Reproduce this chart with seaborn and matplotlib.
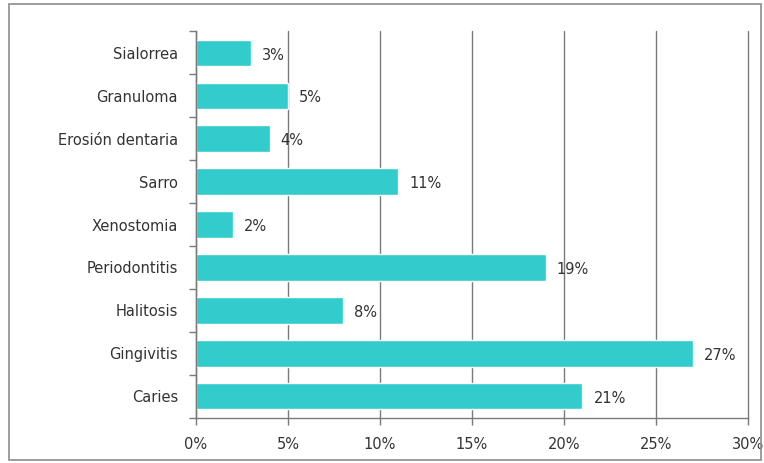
import matplotlib
matplotlib.use("Agg")
import matplotlib.pyplot as plt
from matplotlib.patches import Rectangle
from matplotlib.ticker import FixedLocator, PercentFormatter
import seaborn as sns
import pandas as pd

categories = ["Sialorrea", "Granuloma", "Erosión dentaria", "Sarro", "Xenostomia",
              "Periodontitis", "Halitosis", "Gingivitis", "Caries"]
values = [3, 5, 4, 11, 2, 19, 8, 27, 21]
x_ticks = [0, 5, 10, 15, 20, 25, 30]

df = pd.DataFrame({"categoria": categories, "porcentaje": values})

sns.set_theme(style="white")
plt.rcParams["font.family"] = ["DejaVu Sans"]

fig = plt.figure(figsize=(7.64, 4.63), dpi=100)
ax = fig.add_axes([0.2565, 0.098, 0.7225, 0.834])

sns.barplot(data=df, x="porcentaje", y="categoria", order=categories,
            color="#33CCCC", saturation=1, width=0.62, orient="h", ax=ax)

ax.set_xlim(0, 30)
ax.set_ylim(len(categories) - 0.5, -0.5)
ax.xaxis.set_major_locator(FixedLocator(x_ticks))
ax.xaxis.set_major_formatter(PercentFormatter(decimals=0))
ax.set_xlabel("")
ax.set_ylabel("")

# vertical gridlines, including the one at the right edge
ax.grid(axis="x", color="#7a7a7a", linewidth=1.0)
ax.set_axisbelow(True)
for gl in ax.xaxis.get_gridlines():
    gl.set_clip_on(False)

for side in ["top", "right"]:
    ax.spines[side].set_visible(False)
for side in ["left", "bottom"]:
    ax.spines[side].set_color("#7a7a7a")
    ax.spines[side].set_linewidth(1.0)

# category ticks sit between the bars
ax.yaxis.set_minor_locator(FixedLocator([i - 0.5 for i in range(len(categories) + 1)]))
ax.tick_params(axis="y", which="major", length=0, pad=13, labelsize=10.5, labelcolor="#333333")
ax.tick_params(axis="y", which="minor", left=True, length=5, width=1, color="#7a7a7a")
ax.tick_params(axis="x", which="major", bottom=True, length=5, width=1, color="#7a7a7a",
               pad=9, labelsize=10.5, labelcolor="#333333")

for i, v in enumerate(values):
    ax.text(v + 0.6, i + 0.05, f"{v}%", va="center", ha="left",
            fontsize=10.5, color="#333333")

fig.patches.append(Rectangle((0.012, 0.006), 0.984, 0.986, transform=fig.transFigure,
                             fill=False, edgecolor="#8c8c8c", linewidth=1.2))

fig.savefig("out.png", dpi=100)
